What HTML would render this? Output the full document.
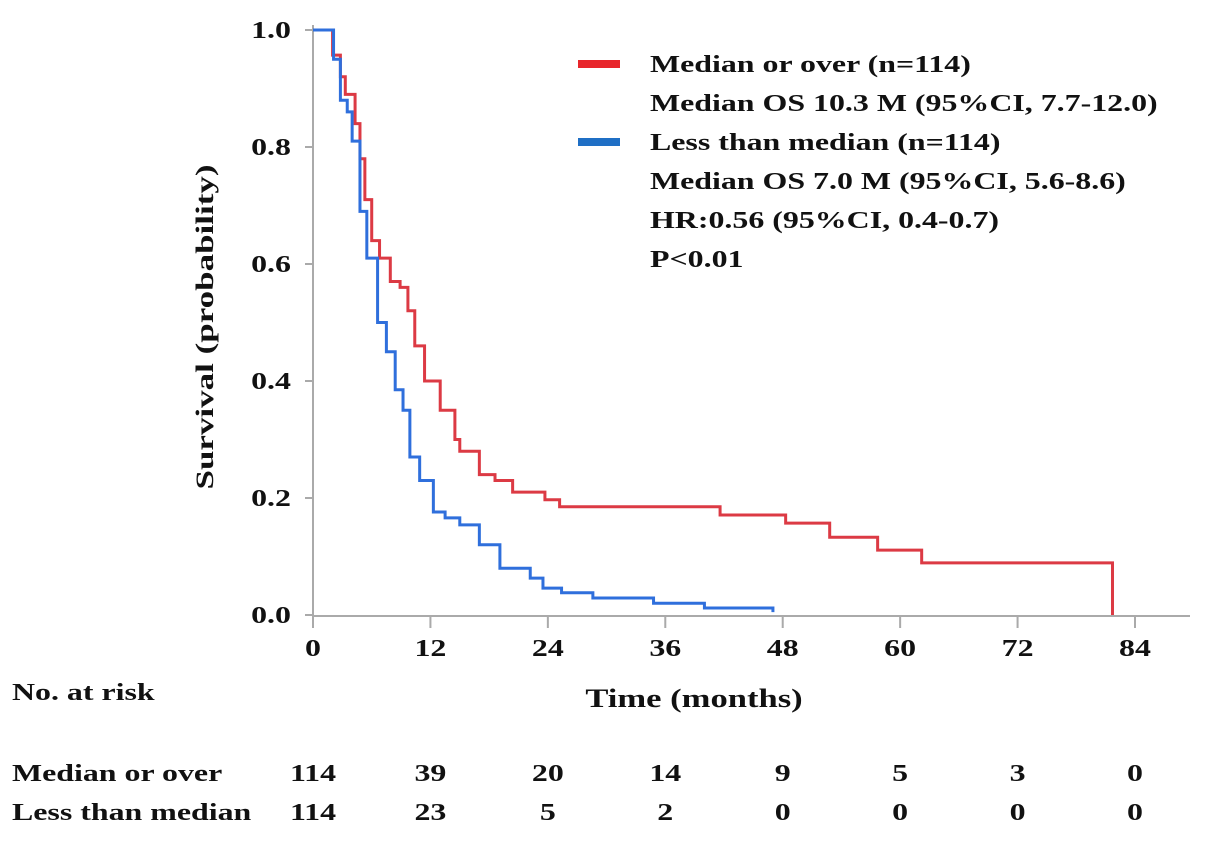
<!DOCTYPE html>
<html><head><meta charset="utf-8"><style>
body{margin:0;background:#fff;}
svg text{font-family:"Liberation Serif",serif;font-weight:bold;fill:#111;}
</style></head><body>
<svg id="chart" width="1205" height="836" viewBox="0 0 1205 836">
<g id="axes"></g>
<g id="curves"></g>
<text x="0" y="0" font-size="25" text-anchor="middle" transform="translate(213 327) rotate(-90) scale(1.4 1)">Survival (probability)</text>
<text class="s" x="694" y="707" font-size="26" text-anchor="middle">Time (months)</text>
<g font-size="24">
<rect x="578" y="60" width="42" height="8" fill="#e8262b"/>
<rect x="578" y="138" width="42" height="8" fill="#1f6fc5"/>
<text class="s" x="650" y="72">Median or over (n=114)</text>
<text class="s" x="650" y="111">Median OS 10.3 M (95%CI, 7.7-12.0)</text>
<text class="s" x="650" y="150">Less than median (n=114)</text>
<text class="s" x="650" y="189">Median OS 7.0 M (95%CI, 5.6-8.6)</text>
<text class="s" x="650" y="228">HR:0.56 (95%CI, 0.4-0.7)</text>
<text class="s" x="650" y="267">P&lt;0.01</text>
</g>
<g id="risk" font-size="24">
<text class="s" x="12" y="700">No. at risk</text>
<text class="s" x="12" y="781">Median or over</text>
<text class="s" x="12" y="820">Less than median</text>
</g>
</svg>
<script>
const xTicks=[0,12,24,36,48,60,72,84];
const yTicks=[0,0.2,0.4,0.6,0.8,1.0];
const overT=[0,2.0,2.8,3.3,4.3,4.8,5.3,6.0,6.8,7.9,8.9,9.7,10.4,11.4,13,14.5,15,17,18.6,20.4,23.7,25.2,41.6,48.3,52.8,57.7,62.2,81.7];
const overS=[1,0.957,0.92,0.89,0.84,0.78,0.71,0.64,0.61,0.57,0.56,0.52,0.46,0.40,0.35,0.30,0.28,0.24,0.23,0.21,0.197,0.185,0.171,0.157,0.133,0.111,0.089,0];
const lessT=[0,2.1,2.8,3.5,4.0,4.8,5.5,6.6,7.5,8.4,9.2,9.9,10.9,12.3,13.5,15,17,19.1,22.2,23.5,25.4,28.6,34.8,40,47];
const lessS=[1,0.95,0.88,0.86,0.81,0.69,0.61,0.50,0.45,0.385,0.35,0.27,0.23,0.176,0.166,0.154,0.12,0.08,0.063,0.046,0.038,0.029,0.02,0.012,0.005];
const riskOver=[114,39,20,14,9,5,3,0];
const riskLess=[114,23,5,2,0,0,0,0];
const NS='http://www.w3.org/2000/svg';
const x=m=>313+m*(1135-313)/84;
const y=s=>615-s*585;
function mk(tag,attrs,parent){const e=document.createElementNS(NS,tag);for(const k in attrs)e.setAttribute(k,attrs[k]);parent.appendChild(e);return e;}
const ax=document.getElementById('axes');
let a=mk('line',{x1:313,y1:25,x2:313,y2:616,stroke:'#aaa','stroke-width':2},ax);


a=mk('line',{x1:312,y1:616,x2:1190,y2:616,stroke:'#aaa','stroke-width':2},ax);


xTicks.forEach(t=>{
 const l=mk('line',{x1:x(t),y1:616,x2:x(t),y2:628,stroke:'#aaa','stroke-width':2},ax);
 
 
 const tx=mk('text',{x:x(t),y:656,'font-size':24,'text-anchor':'middle','class':'s'},ax);tx.textContent=t;
 
 
});
yTicks.forEach(t=>{
 const l=mk('line',{x1:305,y1:y(t),x2:313,y2:y(t),stroke:'#aaa','stroke-width':2},ax);
 
 
 const tx=mk('text',{x:291,y:y(t)+8,'font-size':24,'text-anchor':'end','class':'s'},ax);tx.textContent=t.toFixed(1);
 
 
});
function step(T,S){let d='M'+x(T[0])+' '+y(S[0]);for(let i=1;i<T.length;i++){d+=' H'+x(T[i])+' V'+y(S[i]);}return d;}
const cv=document.getElementById('curves');
let p=mk('path',{d:step(overT,overS),fill:'none',stroke:'#dc3a44','stroke-width':3},cv);


p=mk('path',{d:step(lessT,lessS),fill:'none',stroke:'#2f6fdc','stroke-width':3},cv);


const rk=document.getElementById('risk');
xTicks.forEach((t,i)=>{
 let tx=mk('text',{x:x(t),y:781,'text-anchor':'middle','class':'s'},rk);tx.textContent=riskOver[i];
 
 
 tx=mk('text',{x:x(t),y:820,'text-anchor':'middle','class':'s'},rk);tx.textContent=riskLess[i];
 
 
});
document.querySelectorAll('text.s').forEach(t=>{
 const tx=+t.getAttribute('x'),ty=+t.getAttribute('y');
 t.setAttribute('transform','translate('+tx+' '+ty+') scale(1.33 1) translate('+(-tx)+' '+(-ty)+')');
});
</script>
</body></html>
